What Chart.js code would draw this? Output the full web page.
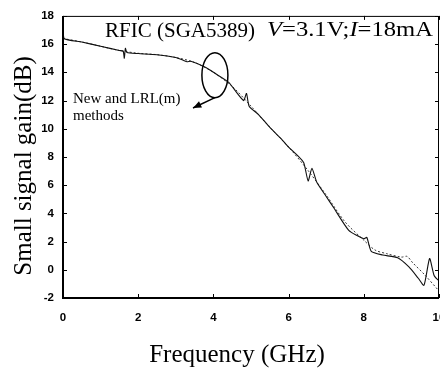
<!DOCTYPE html>
<html>
<head>
<meta charset="utf-8">
<script src="https://cdn.jsdelivr.net/npm/chart.js@4/dist/chart.umd.min.js"></script>
<style>
    html, body { margin: 0; padding: 0; background: #fff; overflow: hidden; }
    #grafico { display: block; }
</style>
</head>
<body>
<canvas id="grafico" width="440" height="368"></canvas>
<script>
// Curva con picos (medida "New")
const freqNew = [0, 0.03, 0.5, 1.0, 1.5, 1.6, 1.63, 1.66, 1.7, 2.0, 2.5, 3.0, 3.2, 3.3, 3.4, 3.8, 4.0, 4.4, 4.8, 4.88, 4.95, 5.2, 5.5, 5.8, 6.0, 6.2, 6.4, 6.52, 6.62, 6.75, 7.0, 7.2, 7.6, 8.0, 8.08, 8.2, 8.5, 8.9, 9.2, 9.45, 9.6, 9.75, 9.87, 10];
const gainNew = [17.3, 16.4, 16.15, 15.85, 15.55, 15.5, 15.0, 15.7, 15.4, 15.33, 15.25, 15.05, 14.85, 14.75, 14.78, 14.35, 14.0, 13.3, 12.0, 12.5, 11.6, 11.0, 10.1, 9.3, 8.7, 8.2, 7.6, 6.3, 7.2, 6.2, 5.2, 4.4, 2.8, 2.2, 2.3, 1.3, 1.05, 0.85, 0.2, -0.6, -1.1, 0.8, -0.4, -0.8];

// Curva suave (LRL(m))
const freqLRL = [0, 0.5, 1.0, 1.5, 2.0, 2.5, 3.0, 3.5, 4.0, 4.5, 5.0, 5.5, 6.0, 6.5, 7.0, 7.5, 8.0, 8.3, 8.6, 9.0, 9.15, 9.3, 9.6, 10];
const gainLRL = [16.4, 16.15, 15.85, 15.55, 15.35, 15.25, 15.05, 14.7, 14.0, 13.0, 11.6, 10.1, 8.7, 7.1, 5.3, 3.4, 2.1, 1.4, 1.15, 0.9, 0.95, 0.5, -0.3, -1.5];

const ticksX = [0, 2, 4, 6, 8, 10];
const ticksY = [-2, 0, 2, 4, 6, 8, 10, 12, 14, 16, 18];

function puntos(xs, ys) {
    return xs.map((x, i) => ({ x: x, y: ys[i] }));
}

const SERIF = '"Liberation Serif", "Times New Roman", serif';

// escribe partes (normal / cursiva) ajustando el ancho total
function textoPartes(ctx, partes, x, y, size, ancho) {
    let total = 0;
    partes.forEach(([t, it]) => {
        ctx.font = (it ? 'italic ' : '') + size + 'px ' + SERIF;
        total += ctx.measureText(t).width;
    });
    const k = ancho / total;
    ctx.save();
    ctx.translate(x, y);
    ctx.scale(k, 1);
    let cx = 0;
    partes.forEach(([t, it]) => {
        ctx.font = (it ? 'italic ' : '') + size + 'px ' + SERIF;
        ctx.fillText(t, cx, 0);
        cx += ctx.measureText(t).width;
    });
    ctx.restore();
}

const anotaciones = {
    id: 'anotaciones',
    afterDatasetsDraw(chart) {
        const ctx = chart.ctx;
        const a = chart.chartArea;
        const sx = chart.scales.x;
        const sy = chart.scales.y;
        ctx.save();

        // marco
        ctx.strokeStyle = '#000';
        ctx.lineWidth = 1;
        ctx.beginPath();
        ctx.moveTo(a.left, a.top + 0.5);
        ctx.lineTo(a.right - 0.5, a.top + 0.5);
        ctx.lineTo(a.right - 0.5, a.bottom);
        ctx.stroke();
        ctx.lineWidth = 2;
        ctx.beginPath();
        ctx.moveTo(a.left, a.top);
        ctx.lineTo(a.left, a.bottom);
        ctx.lineTo(a.right, a.bottom);
        ctx.stroke();

        // marcas hacia dentro
        ctx.lineWidth = 1;
        ctx.beginPath();
        ticksX.forEach(v => {
            const px = Math.round(sx.getPixelForValue(v)) + 0.5;
            ctx.moveTo(px, a.bottom); ctx.lineTo(px, a.bottom - 4);
            ctx.moveTo(px, a.top); ctx.lineTo(px, a.top + 4);
        });
        ticksY.forEach(v => {
            const py = Math.round(sy.getPixelForValue(v)) + 0.5;
            ctx.moveTo(a.left, py); ctx.lineTo(a.left + 4, py);
            ctx.moveTo(a.right, py); ctx.lineTo(a.right - 4, py);
        });
        ctx.stroke();

        ctx.fillStyle = '#000';
        ctx.textBaseline = 'alphabetic';
        ctx.textAlign = 'left';

        // titulo interno
        textoPartes(ctx, [['RFIC (SGA5389)', false]], 105, 37, 21, 150);
        textoPartes(ctx, [['V', true], ['=3.1V;', false], ['I', true], ['=18mA', false]], 267, 36, 21, 166);

        // nota
        ctx.font = '15px ' + SERIF;
        ctx.fillText('New and LRL(m)', 73, 103);
        ctx.fillText('methods', 73, 120);

        // elipse y flecha
        const cx = sx.getPixelForValue(4.04);
        const cy = sy.getPixelForValue(13.8);
        ctx.lineWidth = 1.5;
        ctx.beginPath();
        ctx.ellipse(cx, cy, 13, 22.5, 0, 0, Math.PI * 2);
        ctx.stroke();

        const x0 = cx, y0 = cy + 22.5;
        const x1 = 193, y1 = 108;
        ctx.beginPath();
        ctx.moveTo(x0, y0);
        ctx.lineTo(x1, y1);
        ctx.stroke();
        const ang = Math.atan2(y1 - y0, x1 - x0);
        ctx.beginPath();
        ctx.moveTo(x1, y1);
        ctx.lineTo(x1 - 9 * Math.cos(ang - 0.4), y1 - 9 * Math.sin(ang - 0.4));
        ctx.lineTo(x1 - 9 * Math.cos(ang + 0.4), y1 - 9 * Math.sin(ang + 0.4));
        ctx.closePath();
        ctx.fill();

        // titulos de ejes
        ctx.font = '25px ' + SERIF;
        ctx.textAlign = 'center';
        ctx.fillText('Frequency (GHz)', 237, 362);
        ctx.save();
        ctx.translate(31, 166);
        ctx.rotate(-Math.PI / 2);
        ctx.fillText('Small signal gain(dB)', 0, 0);
        ctx.restore();

        ctx.restore();
    }
};

const fuenteTicks = { family: '"Liberation Sans", Arial, sans-serif', size: 11.5, weight: 'bold' };

new Chart(document.getElementById('grafico'), {
    type: 'line',
    data: {
        datasets: [{
            label: 'New',
            data: puntos(freqNew, gainNew),
            borderColor: '#111',
            borderWidth: 1.1,
            pointRadius: 0,
            tension: 0.2,
            fill: false
        }, {
            label: 'LRL(m)',
            data: puntos(freqLRL, gainLRL),
            borderColor: '#333',
            borderWidth: 1,
            borderDash: [2, 2],
            pointRadius: 0,
            tension: 0.3,
            fill: false
        }]
    },
    options: {
        responsive: false,
        animation: false,
        devicePixelRatio: 1,
        layout: { padding: { left: 0, right: 1, top: 15, bottom: 0 } },
        plugins: { legend: { display: false }, tooltip: { enabled: false } },
        scales: {
            x: {
                type: 'linear',
                min: 0, max: 10,
                grid: { display: false, drawTicks: false },
                border: { display: false },
                afterBuildTicks: s => { s.ticks = ticksX.map(v => ({ value: v })); },
                ticks: { color: '#000', font: fuenteTicks, padding: 13, maxRotation: 0 },
                afterFit: s => { s.height = 70; s.paddingRight = 0; s.paddingLeft = 0; }
            },
            y: {
                type: 'linear',
                min: -2, max: 18,
                grid: { display: false, drawTicks: false },
                border: { display: false },
                afterBuildTicks: s => { s.ticks = ticksY.map(v => ({ value: v })); },
                ticks: { color: '#000', font: fuenteTicks, padding: 9 },
                afterFit: s => { s.width = 63; }
            }
        }
    },
    plugins: [anotaciones]
});
</script>
</body>
</html>
